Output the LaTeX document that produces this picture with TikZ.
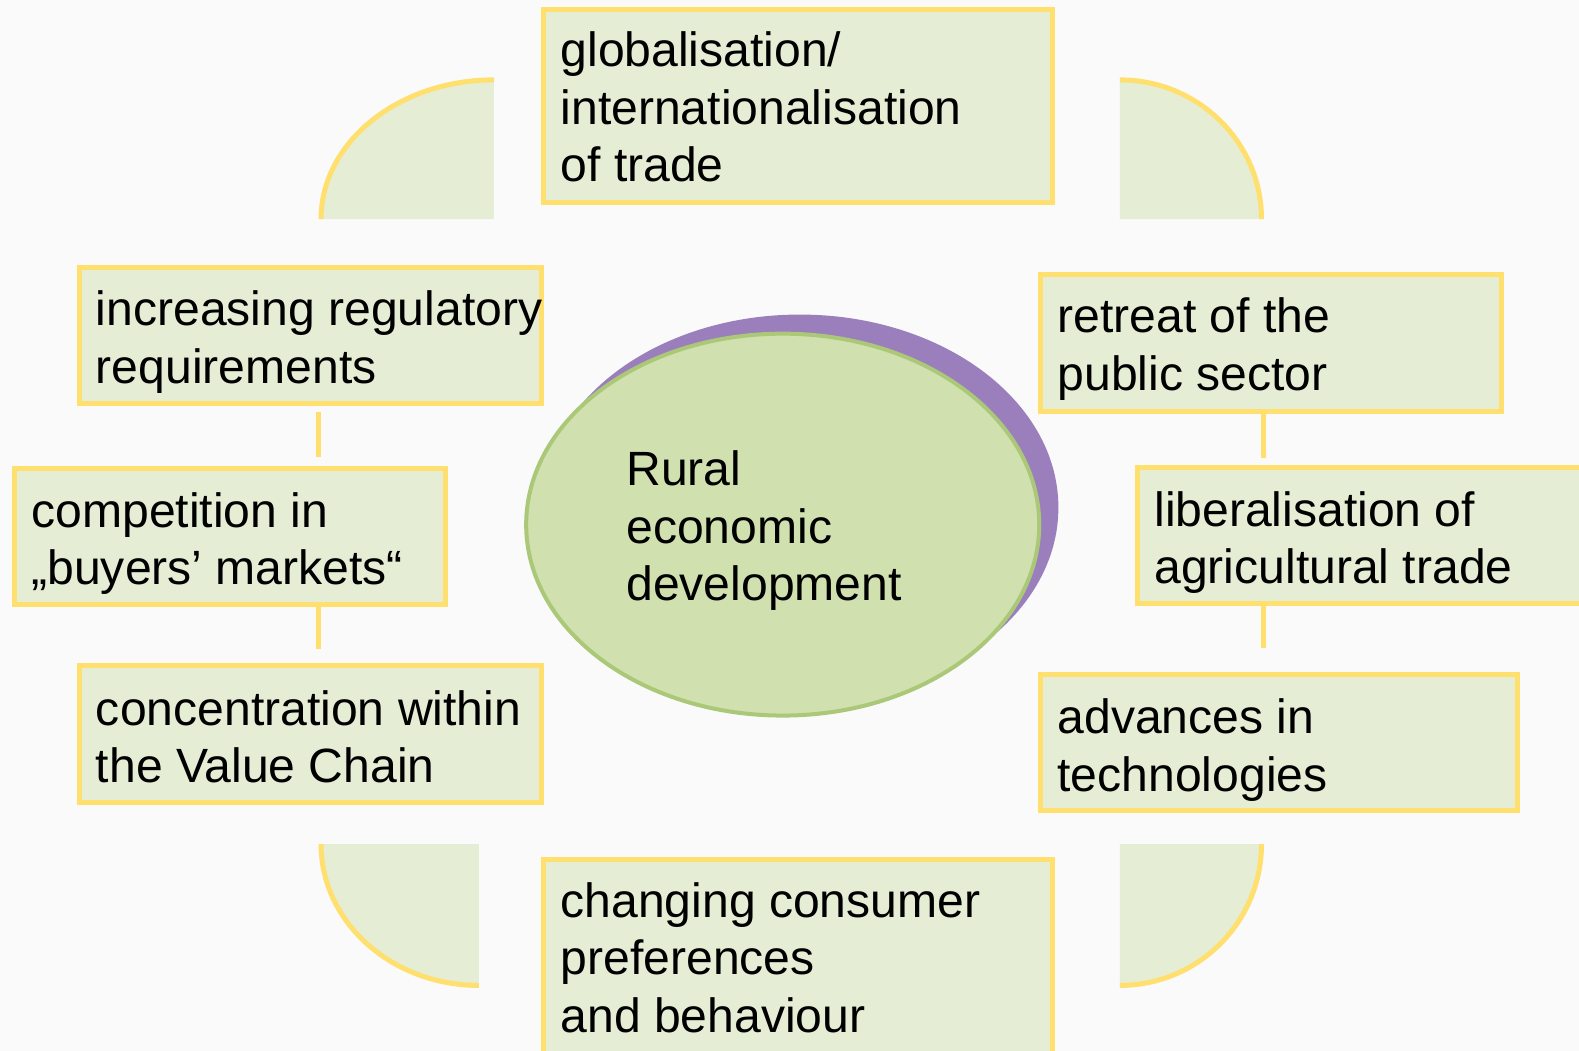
\documentclass[tikz,border=0pt]{standalone}
\usepackage{fontspec}
\setmainfont{Liberation Sans}
\usetikzlibrary{calc,shapes.geometric}
\definecolor{bgc}{HTML}{FAFAFA}
\definecolor{boxfill}{HTML}{E5EDD5}
\definecolor{yel}{HTML}{FFE06E}
\definecolor{ellfill}{HTML}{D1E0AF}
\definecolor{elldraw}{HTML}{AAC878}
\definecolor{purp}{HTML}{9B7FBC}
\def\hsc{1.008}
\def\vsc{1.005}
\begin{document}
\begin{tikzpicture}[x=1.008pt,y=-1.005pt,
  factor/.style={rectangle, draw=yel, fill=boxfill, line width=5pt, anchor=north west, inner sep=0pt},
  ftext/.style={anchor=west, align=left, inner sep=0pt, font=\fontsize{48.1}{57.7}\selectfont, text=black},
  conn/.style={draw=yel, line width=5pt},
  quarter/.style={fill=boxfill},
  qarc/.style={draw=yel, line width=5pt}]
\useasboundingbox (0pt,0pt) rectangle (1579pt,-1051pt);
\clip (0pt,0pt) rectangle (1579pt,-1051pt);
\fill[bgc] (0pt,0pt) rectangle (1579pt,-1051pt);

% quarter shapes
\fill[quarter] (490,218) -- (318.5,218) .. controls (318.5,141.5) and (395.3,79.5) .. (490,79.5) -- cycle;
\draw[qarc] (318.5,218) .. controls (318.5,141.5) and (395.3,79.5) .. (490,79.5);
\fill[quarter] (1111,218) -- (1111,79.5) .. controls (1188.6,79.5) and (1251.5,141.5) .. (1251.5,218) -- cycle;
\draw[qarc] (1111,79.5) .. controls (1188.6,79.5) and (1251.5,141.5) .. (1251.5,218);
\fill[quarter] (475,840) -- (318.5,840) .. controls (318.5,917.6) and (388.6,980.5) .. (475,980.5) -- cycle;
\draw[qarc] (318.5,840) .. controls (318.5,917.6) and (388.6,980.5) .. (475,980.5);
\fill[quarter] (1111,840) -- (1111,980.5) .. controls (1188.6,980.5) and (1251.5,917.6) .. (1251.5,840) -- cycle;
\draw[qarc] (1111,980.5) .. controls (1188.6,980.5) and (1251.5,917.6) .. (1251.5,840);

% central ellipse
\node[ellipse, fill=purp, inner sep=0pt, minimum width=\hsc*513pt, minimum height=\vsc*384pt] (shadow) at (793.5,505) {};
\node[ellipse, fill=ellfill, draw=elldraw, line width=4pt, inner sep=0pt, minimum width=\hsc*509pt, minimum height=\vsc*380pt] (core) at (776.5,522) {};
\node[ftext, anchor=center] (coretext) at (758,528) {Rural\\economic\\development};

% factor boxes
\node[factor, minimum width=\hsc*510pt-5pt, minimum height=\vsc*197pt-5pt] (T) at (537,7) {};
\node[factor, minimum width=\hsc*464pt-5pt, minimum height=\vsc*140pt-5pt] (L1) at (76,264) {};
\node[factor, minimum width=\hsc*432pt-5pt, minimum height=\vsc*140pt-5pt] (L2) at (12,464) {};
\node[factor, minimum width=\hsc*464pt-5pt, minimum height=\vsc*141pt-5pt] (L3) at (76,660) {};
\node[factor, minimum width=\hsc*462pt-5pt, minimum height=\vsc*141pt-5pt] (R1) at (1030,271) {};
\node[factor, minimum width=\hsc*470pt-5pt, minimum height=\vsc*140pt-5pt] (R2) at (1126,463) {};
\node[factor, minimum width=\hsc*478pt-5pt, minimum height=\vsc*140pt-5pt] (R3) at (1030,669) {};
\node[factor, minimum width=\hsc*510pt-5pt, minimum height=\vsc*205pt-5pt] (B) at (537,853) {};

\node[ftext] (tT) at ($(T.west)+(19,1)$) {globalisation/\\internationalisation\\of trade};
\node[ftext] (tL1) at ($(L1.west)+(19,6.5)$) {increasing regulatory\\requirements};
\node[ftext] (tL2) at ($(L2.west)+(19,7)$) {competition in\\„buyers’ markets“};
\node[ftext] (tL3) at ($(L3.west)+(19,2.5)$) {concentration within\\the Value Chain};
\node[ftext] (tR1) at ($(R1.west)+(19,5.5)$) {retreat of the\\public sector};
\node[ftext] (tR2) at ($(R2.west)+(19,7)$) {liberalisation of\\agricultural trade};
\node[ftext] (tR3) at ($(R3.west)+(19,7.5)$) {advances in\\technologies};
\node[ftext] (tB) at ($(B.north west)+(19,100)$) {changing consumer\\preferences\\and behaviour};

% connectors
\coordinate (lx) at (316,0);
\coordinate (rx) at (1253,0);
\draw[conn, shorten <=6pt, shorten >=9pt] (L1.south -| lx) -- (L2.north -| lx);
\draw[conn, shorten <=0pt, shorten >=14pt] (L2.south -| lx) -- (L3.north -| lx);
\draw[conn, shorten <=0pt, shorten >=7pt] (R1.south -| rx) -- (R2.north -| rx);
\draw[conn, shorten <=0pt, shorten >=24pt] (R2.south -| rx) -- (R3.north -| rx);
\end{tikzpicture}
\end{document}
